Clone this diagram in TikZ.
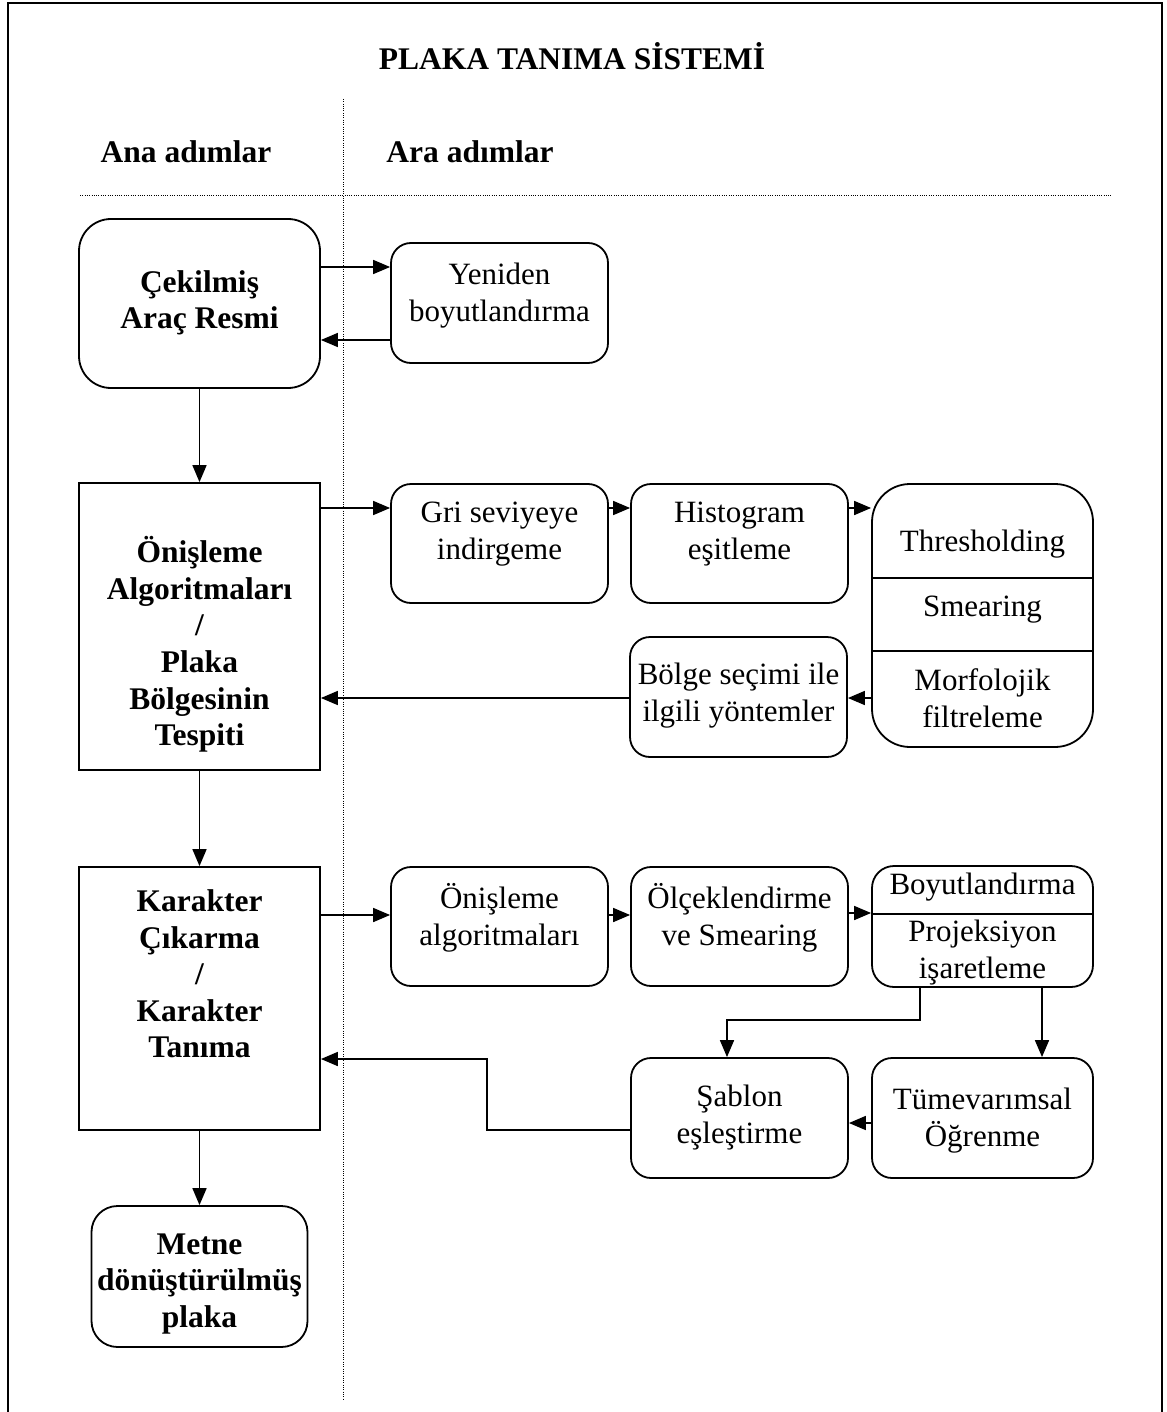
\documentclass[tikz,border=0pt]{standalone}
\usepackage{fontspec}
\setmainfont{Liberation Serif}
\usetikzlibrary{arrows.meta,calc}
\begin{document}
\begin{tikzpicture}[x=1pt,y=1pt,
  box/.style={draw=black,line width=1.8pt,inner sep=0pt,minimum width=217pt,minimum height=120pt,rounded corners=20pt},
  mainbox/.style={draw=black,line width=1.8pt,inner sep=0pt,minimum width=241pt},
  txt/.style={inner sep=0pt,align=center,font=\fontsize{31}{37}\selectfont},
  btxt/.style={inner sep=0pt,align=center,font=\fontsize{31.5}{36.6}\selectfont\bfseries},
  arr/.style={line width=1.7pt,-{Triangle[length=17pt,width=14pt]}},
  ln/.style={line width=1.7pt},
  dotline/.style={line width=1pt,dash pattern=on 1pt off 1.3pt}]
\useasboundingbox (0,0) rectangle (1166,-1412);
% frame
\draw[line width=1.8pt] (8,-1412) -- (8,-3) -- (1162,-3) -- (1162,-1412);
% dotted guides
\coordinate (vtop) at (343,-99);
\coordinate (vbot) at (343,-1400);
\coordinate (hl) at (80,-196);
\coordinate (hr) at (1112,-196);
\draw[dotline] (vtop) -- (vbot);
\draw[dotline] (hl) -- (hr);
% titles
\node[btxt] (title) at (572,-56) {PLAKA TANIMA SİSTEMİ};
\node[btxt] (anah) at (186,-152) {Ana adımlar};
\node[btxt] (arah) at (470,-152) {Ara adımlar};
% main boxes
\node[mainbox,minimum height=169pt,rounded corners=32pt] (cek) at (199.5,-303.5) {};
\node[btxt] (cekT) at (199.5,-303) {Çekilmiş\\Araç Resmi};
\node[mainbox,minimum height=287pt] (oni) at (199.5,-626.5) {};
\node[btxt] (oniT) at (199.5,-644.5) {Önişleme\\Algoritmaları\\/\\Plaka\\Bölgesinin\\Tespiti};
\node[mainbox,minimum height=263pt] (kar) at (199.5,-998.5) {};
\node[btxt] (karT) at (199.5,-974) {Karakter\\Çıkarma\\/\\Karakter\\Tanıma};
\node[draw=black,line width=1.8pt,inner sep=0pt,minimum width=216pt,minimum height=141pt,rounded corners=26pt] (met) at (199.5,-1276.5) {};
\node[btxt] (metT) at (199.5,-1284) {Metne\\dönüştürülmüş\\plaka};
% side boxes
\node[box] (yen) at (499.5,-303) {};
\node[txt] (yenT) at (499.5,-296) {Yeniden\\boyutlandırma};
\node[box,minimum height=119pt] (gri) at (499.5,-543.5) {};
\node[txt] (griT) at (499.5,-534.5) {Gri seviyeye\\indirgeme};
\node[box,minimum height=119pt] (his) at (739.5,-543.5) {};
\node[txt] (hisT) at (739.5,-534.5) {Histogram\\eşitleme};
\node[box,minimum width=221pt,minimum height=263pt,rounded corners=38pt] (thr) at (982.5,-615.5) {};
\node[txt] (thrT1) at (982.5,-544) {Thresholding};
\node[txt] (thrT2) at (982.5,-610) {Smearing};
\node[txt] (thrT3) at (982.5,-698) {Morfolojik\\filtreleme};
\coordinate (d1) at (0,-578);
\coordinate (d2) at (0,-651);
\draw[ln] (thr.west |- d1) -- (thr.east |- d1);
\draw[ln] (thr.west |- d2) -- (thr.east |- d2);
\node[box] (bol) at (738.5,-697) {};
\node[txt] (bolT) at (738.5,-695.5) {Bölge seçimi ile\\ilgili yöntemler};
\node[box,minimum height=119pt] (ona) at (499.5,-926.5) {};
\node[txt] (onaT) at (499.5,-918) {Önişleme\\algoritmaları};
\node[box,minimum height=119pt] (olc) at (739.5,-926.5) {};
\node[txt] (olcT) at (739.5,-918) {Ölçeklendirme\\ve Smearing};
\node[box,minimum width=221pt,minimum height=121pt,rounded corners=22pt] (boy) at (982.5,-926.5) {};
\node[txt] (boyT1) at (982.5,-887) {Boyutlandırma};
\node[txt] (boyT2) at (982.5,-953) {Projeksiyon\\işaretleme};
\coordinate (d3) at (0,-914);
\draw[ln] (boy.west |- d3) -- (boy.east |- d3);
\node[box] (sab) at (739.5,-1118) {};
\node[txt] (sabT) at (739.5,-1118) {Şablon\\eşleştirme};
\node[box,minimum width=221pt] (tum) at (982.5,-1118) {};
\node[txt] (tumT) at (982.5,-1121) {Tümevarımsal\\Öğrenme};
% connectors
\coordinate (y1) at (0,-267);
\coordinate (y2) at (0,-340);
\draw[arr] (cek.east |- y1) -- (yen.west |- y1);
\draw[arr] (yen.west |- y2) -- (cek.east |- y2);
\draw[arr] (cek.south) -- (oni.north);
\coordinate (y3) at (0,-508);
\draw[arr] (oni.east |- y3) -- (gri.west |- y3);
\draw[arr] (gri.east |- y3) -- (his.west |- y3);
\draw[arr] (his.east |- y3) -- (thr.west |- y3);
\coordinate (y4) at (0,-698);
\draw[arr] (thr.west |- y4) -- (bol.east |- y4);
\draw[arr] (bol.west |- y4) -- (oni.east |- y4);
\draw[arr] (oni.south) -- (kar.north);
\coordinate (y5) at (0,-915);
\draw[arr] (kar.east |- y5) -- (ona.west |- y5);
\draw[arr] (ona.east |- y5) -- (olc.west |- y5);
\coordinate (y6) at (0,-913);
\draw[arr] (olc.east |- y6) -- (boy.west |- y6);
\coordinate (b1) at (920,0);
\coordinate (b2) at (727,-1020);
\draw[arr] (boy.south -| b1) -- (b1 |- b2) -- (b2) -- (sab.north -| b2);
\coordinate (b3) at (1042,0);
\draw[arr] (boy.south -| b3) -- (tum.north -| b3);
\coordinate (y7) at (0,-1123);
\draw[arr] (tum.west |- y7) -- (sab.east |- y7);
\coordinate (r1) at (487,-1130);
\coordinate (r2) at (487,-1059);
\draw[arr] (sab.west |- r1) -- (r1) -- (r2) -- (kar.east |- r2);
\draw[arr] (kar.south) -- (met.north);
\end{tikzpicture}
\end{document}
